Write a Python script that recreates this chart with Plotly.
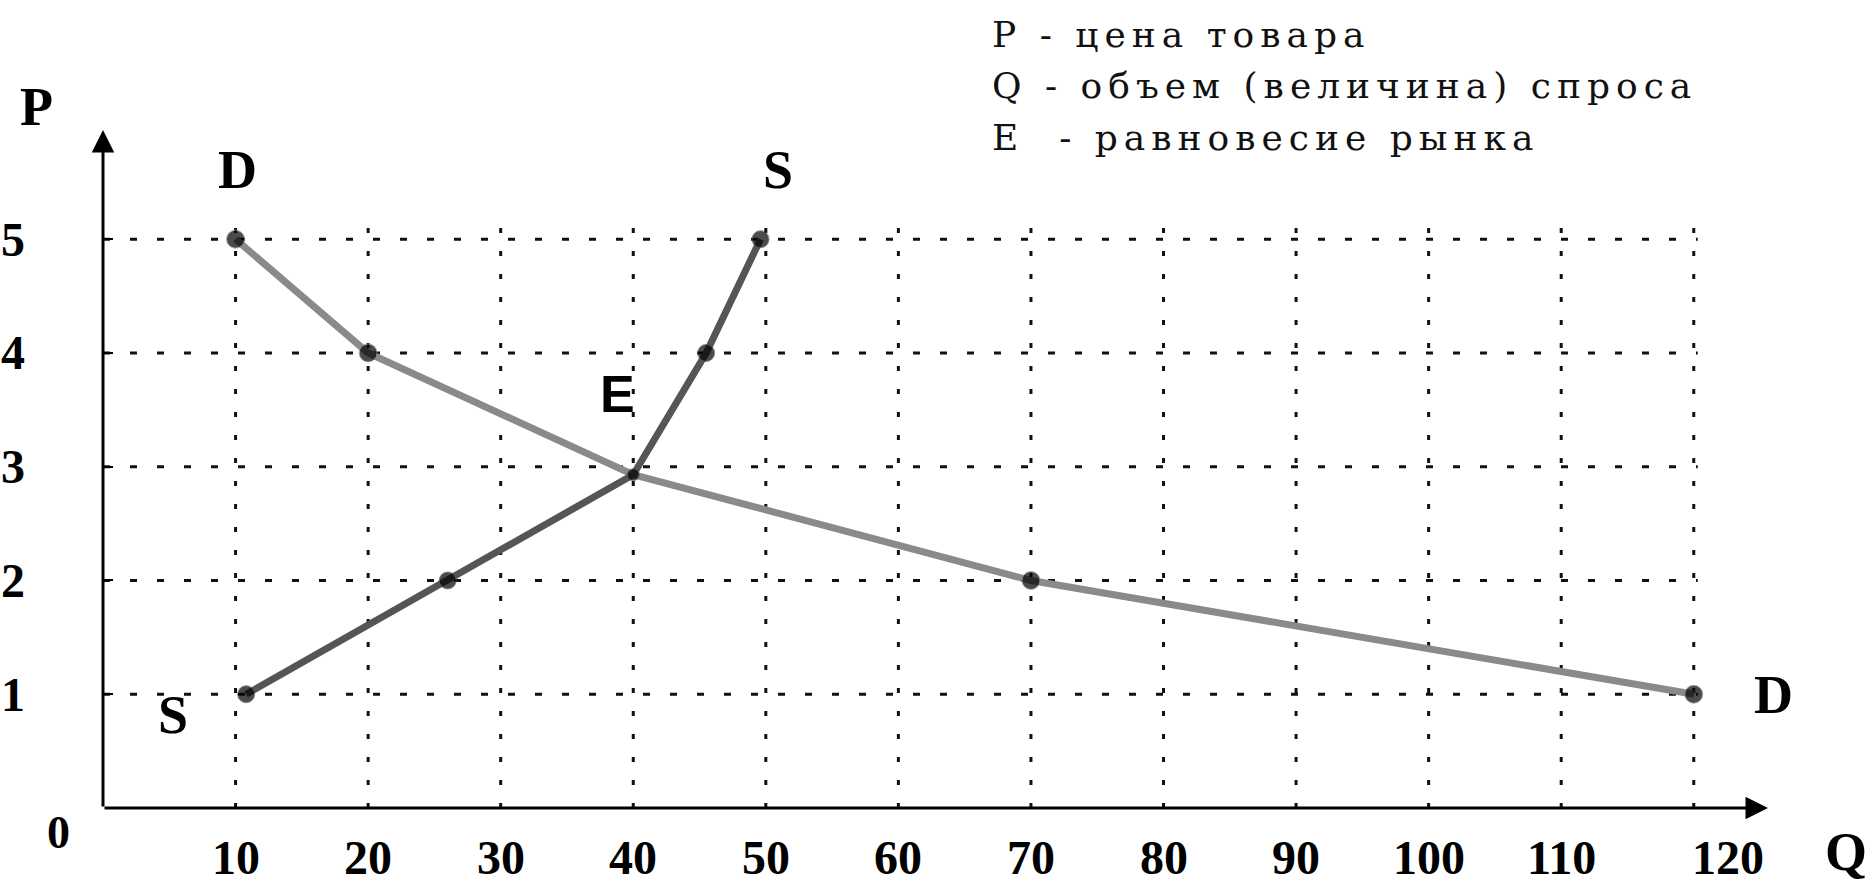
import plotly.graph_objects as go

# ---------------- data ----------------
x_ticks = [10, 20, 30, 40, 50, 60, 70, 80, 90, 100, 110, 120]
y_ticks = [1, 2, 3, 4, 5]

demand_q = [10, 20, 40, 70, 120]
demand_p = [5, 4, 2.93, 2, 1]

supply_q = [10.8, 26, 40, 45.5, 49.6]
supply_p = [1, 2, 2.93, 4, 5]

legend_lines = [
    "P - цена товара",
    "Q - объем (величина) спроса",
    "E \u00a0- равновесие рынка",
]

# ---------------- layout geometry ----------------
W, H = 1876, 885
L, R, T, B = 103, 108, 130, 77
PW, PH = W - L - R, H - T - B
X_MAX, Y_MAX = 125.6, 5.96
GRID_X_TOP = 5.18
GRID_Y_RIGHT = 120.3


def xp(px):
    return (px - L) / PW


def yp(py):
    return (H - B - py) / PH


fig = go.Figure()

# dotted grid (vertical)
gx, gy = [], []
for q in x_ticks:
    gx += [q, q, None]
    gy += [0, GRID_X_TOP, None]
fig.add_trace(go.Scatter(x=gx, y=gy, mode="lines", hoverinfo="skip",
                         line=dict(color="#111111", width=3, dash="5px,18px")))
# dashed grid (horizontal)
hx, hy = [], []
for p in y_ticks:
    hx += [0, GRID_Y_RIGHT, None]
    hy += [p, p, None]
fig.add_trace(go.Scatter(x=hx, y=hy, mode="lines", hoverinfo="skip",
                         line=dict(color="#111111", width=3, dash="7px,20px")))

# demand curve
fig.add_trace(go.Scatter(
    x=demand_q, y=demand_p, mode="lines+markers", name="D",
    line=dict(color="#8a8a8a", width=7),
    marker=dict(color="black", size=[18, 18, 0, 18, 18], symbol="circle"),
))
# supply curve
fig.add_trace(go.Scatter(
    x=supply_q, y=supply_p, mode="lines+markers", name="S",
    line=dict(color="#555555", width=7),
    marker=dict(color="black", size=[17, 17, 12, 17, 17], symbol="circle"),
))

ann = []
# axes with arrows
ann.append(dict(x=X_MAX, y=0, ax=0, ay=0, xref="x", yref="y", axref="x", ayref="y",
                text="", showarrow=True, arrowhead=2, arrowsize=1.5, arrowwidth=3,
                arrowcolor="black"))
ann.append(dict(x=0, y=Y_MAX, ax=0, ay=0, xref="x", yref="y", axref="x", ayref="y",
                text="", showarrow=True, arrowhead=2, arrowsize=1.5, arrowwidth=3,
                arrowcolor="black"))

tick_font = dict(family="Liberation Serif", size=48, color="black", weight="bold")
for q in x_ticks:
    ann.append(dict(x=q, y=0, xref="x", yref="y", text=str(q), showarrow=False,
                    yshift=-49, xshift=34 if q == x_ticks[-1] else 0,
                    xanchor="center", yanchor="middle", font=tick_font))
for p in y_ticks:
    ann.append(dict(x=0, y=p, xref="x", yref="y", text=str(p), showarrow=False,
                    xshift=-76, xanchor="right", yanchor="middle", font=tick_font))
ann.append(dict(x=xp(58), y=yp(832), xref="paper", yref="paper", text="0",
                showarrow=False, xanchor="center", yanchor="middle",
                font=dict(family="Liberation Serif", size=46, color="black", weight="bold")))

lab_font = dict(family="Liberation Serif", size=54, color="black", weight="bold")
for txt, cx, cy, anc in [("P", 36, 107, "center"), ("D", 237, 170, "center"),
                         ("S", 778, 170, "center"), ("S", 173, 715, "center"),
                         ("D", 1773, 695, "center"), ("Q", 1823, 852, "left")]:
    ann.append(dict(x=xp(cx), y=yp(cy), xref="paper", yref="paper", text=txt,
                    showarrow=False, xanchor=anc, yanchor="middle", font=lab_font))
ann.append(dict(x=xp(617), y=yp(394), xref="paper", yref="paper", text="E",
                showarrow=False, xanchor="center", yanchor="middle",
                font=dict(family="Liberation Sans", size=52, color="black", weight="bold")))

for i, line in enumerate(legend_lines):
    ann.append(dict(x=xp(990), y=yp(35 + 51 * i), xref="paper", yref="paper",
                    text='<span style="letter-spacing:6px">' + line + "</span>",
                    showarrow=False, xanchor="left", yanchor="middle",
                    font=dict(family="DejaVu Serif", size=36, color="#111111")))

fig.update_layout(
    width=W, height=H,
    margin=dict(l=L, r=R, t=T, b=B, pad=0),
    paper_bgcolor="white", plot_bgcolor="white",
    showlegend=False,
    annotations=ann,
    xaxis=dict(range=[0, X_MAX], showgrid=False, zeroline=False, showline=False,
               showticklabels=False, ticks=""),
    yaxis=dict(range=[0, Y_MAX], showgrid=False, zeroline=False, showline=False,
               showticklabels=False, tickvals=y_ticks, ticks="inside", ticklen=10,
               tickwidth=2, tickcolor="black"),
)

fig.write_html("out.html", config={"displayModeBar": False},
               post_script="document.body.style.margin='0px';")
